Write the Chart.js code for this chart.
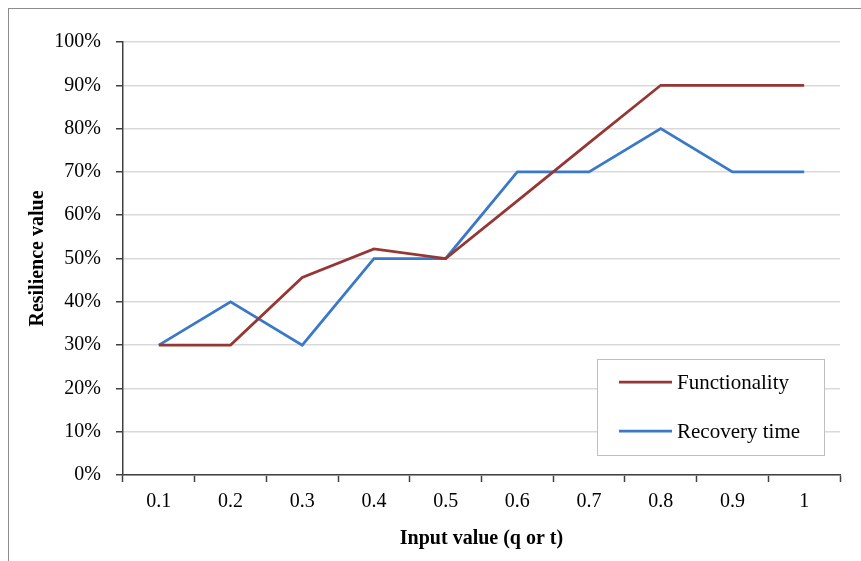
<!DOCTYPE html>
<html>
<head>
<meta charset="utf-8">
<script src="https://cdn.jsdelivr.net/npm/chart.js@4"></script>
<style>
  html, body { margin:0; padding:0; background:#fff; overflow:hidden; }
  #wrap { position:relative; width:861px; height:561px; }
  #frame { position:absolute; left:8px; top:8px; width:900px; height:600px; border:1.5px solid #8c8c8c; }
  canvas { position:absolute; left:0; top:0; }
</style>
</head>
<body>
<div id="wrap">
  <div id="frame"></div>
  <canvas id="chart" width="861" height="561"></canvas>
</div>
<script>
const categories = ['0.1','0.2','0.3','0.4','0.5','0.6','0.7','0.8','0.9','1'];
const functionality = [30, 30, 45.6, 52.2, 50, 63.3, 76.7, 90, 90, 90];
const recoveryTime = [30, 40, 30, 50, 50, 70, 70, 80, 70, 70];
const yTicks = [0,10,20,30,40,50,60,70,80,90,100];

const font = 'Liberation Serif';

// legend box drawn inside plot area, like the original
const boxLegend = {
  id:'boxLegend',
  afterDraw(chart){
    const c = chart.ctx, a = chart.chartArea;
    const x = a.left + 474, y = a.top + 317, w = 227, h = 96;
    c.save();
    c.fillStyle = '#fff';
    c.fillRect(x, y, w, h);
    c.strokeStyle = '#bfbfbf';
    c.lineWidth = 1;
    c.strokeRect(x + 0.5, y + 0.5, w, h);
    c.font = '21px "' + font + '"';
    c.textBaseline = 'middle';
    chart.data.datasets.forEach((ds, i) => {
      const ly = y + 23 + i * 49;
      c.strokeStyle = ds.borderColor;
      c.lineWidth = 2.75;
      c.beginPath();
      c.moveTo(x + 22, ly);
      c.lineTo(x + 75, ly);
      c.stroke();
      c.fillStyle = '#000';
      c.fillText(ds.label, x + 80, ly + 1);
    });
    c.restore();
  }
};

new Chart(document.getElementById('chart'), {
  type:'line',
  data:{
    labels:categories,
    datasets:[
      {label:'Functionality', data:functionality, borderColor:'#953735', borderWidth:2.75, pointRadius:0, tension:0},
      {label:'Recovery time', data:recoveryTime, borderColor:'#3a78c8', borderWidth:2.75, pointRadius:0, tension:0}
    ]
  },
  options:{
    responsive:false,
    animation:false,
    layout:{padding:{top:42, right:21, left:22, bottom:6}},
    plugins:{legend:{display:false}, tooltip:{enabled:false}},
    scales:{
      x:{
        offset:true,
        grid:{offset:true, drawOnChartArea:false, drawTicks:true, tickLength:7, tickColor:'#404040', tickWidth:1.5},
        border:{color:'#404040', width:1.5},
        ticks:{color:'#000', font:{family:font, size:20}, padding:8, maxRotation:0},
        title:{display:true, text:'Input value (q or t)', color:'#000', font:{family:font, size:20, weight:'bold'}, padding:{top:10}},
        afterFit(s){ s.height = 80; }
      },
      y:{
        min:0, max:100,
        afterBuildTicks(s){ s.ticks = yTicks.map(v => ({value:v})); },
        grid:{color:'#d9d9d9', lineWidth:1.5, drawTicks:true, tickLength:7, tickColor:'#404040', tickWidth:1.5},
        border:{color:'#404040', width:1.5},
        ticks:{color:'#000', font:{family:font, size:20}, padding:15, callback:v => v + '%'},
        title:{display:true, text:'Resilience value', color:'#000', font:{family:font, size:20, weight:'bold'}, padding:{bottom:4}},
        afterFit(s){ s.width = 101; }
      }
    }
  },
  plugins:[boxLegend]
});
</script>
</body>
</html>
